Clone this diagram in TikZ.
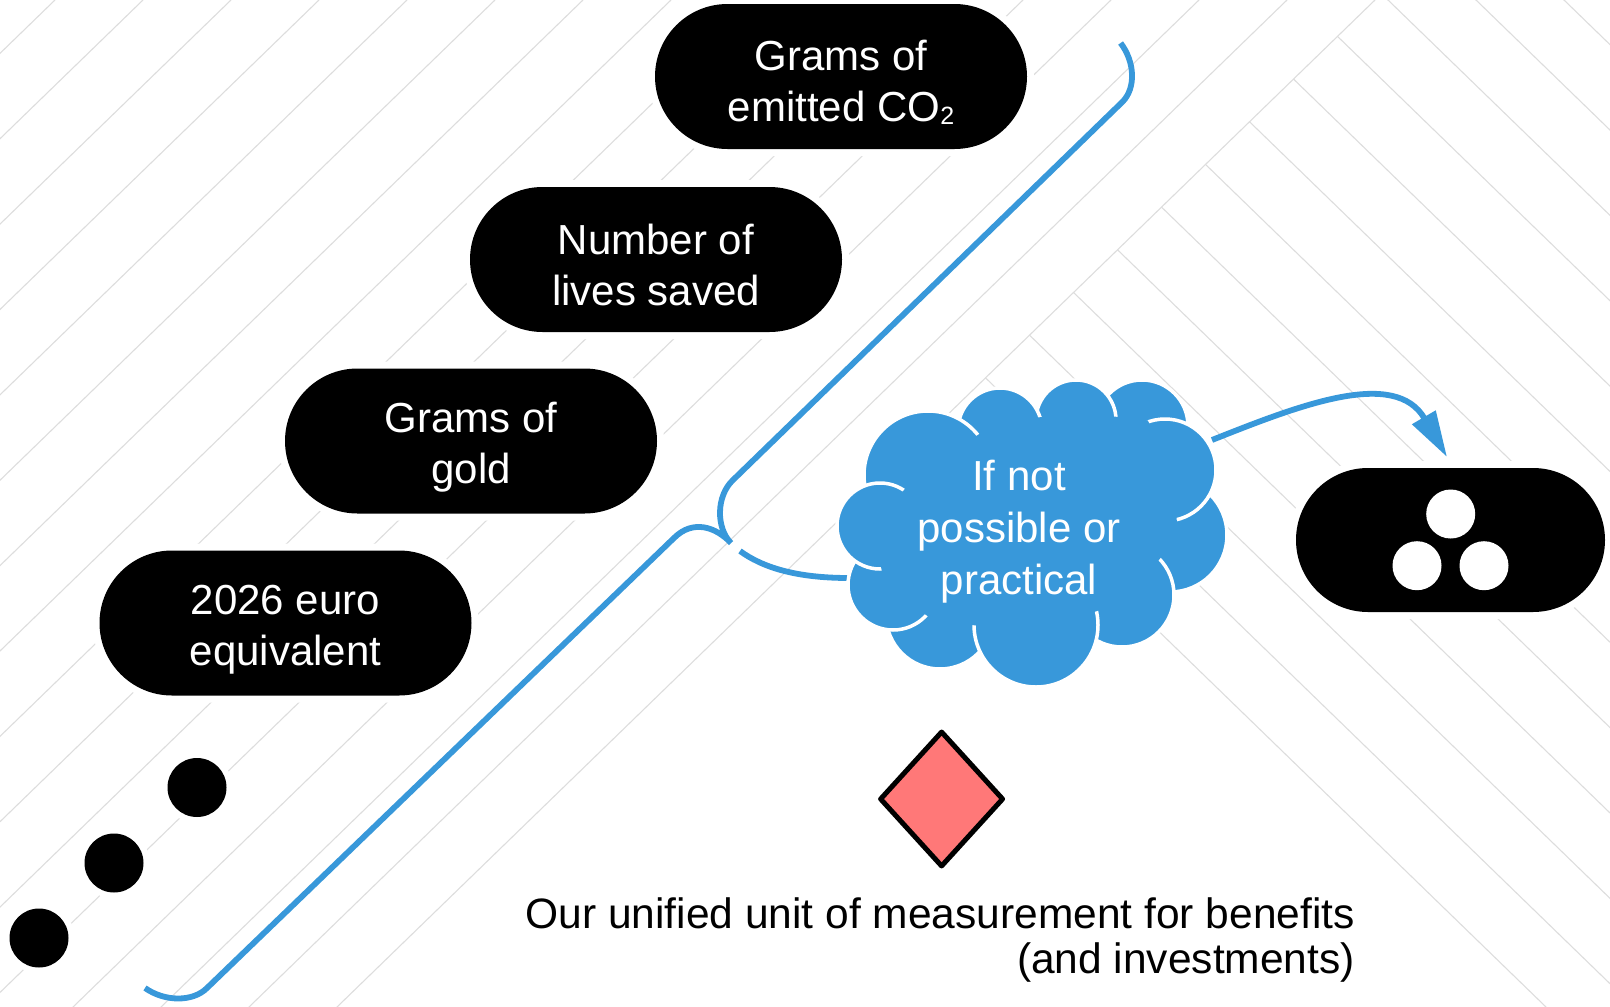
\documentclass[tikz,border=0pt]{standalone}
\usepackage{fontspec}
\setmainfont{Liberation Sans}
\usetikzlibrary{shapes.misc,shapes.geometric,arrows.meta}
\definecolor{cblue}{RGB}{56,152,218}
\definecolor{salmon}{RGB}{255,120,120}
\definecolor{bggray}{RGB}{221,221,221}
\newcommand{\pillstrut}{\rule{0pt}{42pt}}
\begin{document}
\begin{tikzpicture}[x=1pt,y=-1pt,
  bgline/.style={draw=bggray,line width=1.1pt},
  halo/.style={preaction={draw=white,line width=14pt}},
  pill/.style={rounded rectangle, fill=black, halo, minimum width=372pt, minimum height=145pt,
    inner sep=0pt, text=white, align=center, font=\fontsize{42pt}{51pt}\selectfont},
  dot/.style={circle, fill=black, minimum size=59pt, inner sep=0pt, preaction={draw=white,line width=12pt}},
  wdot/.style={circle, fill=white, minimum size=49pt, inner sep=0pt},
  bluel/.style={draw=cblue, line width=5.8pt},
  puff/.style={fill=cblue, draw=white, line width=3.5pt},
]
\useasboundingbox (0,0) rectangle (1610,1007);
\fill[white] (0,0) rectangle (1610,1007);

% background hatching
\begin{scope}
\clip (0,0) rectangle (1610,1007);
\foreach \k in {0,...,15}{
  \pgfmathsetmacro{\cc}{55+88*\k}
  \draw[bgline] (\cc,0) -- ({\cc-1038},1007);
}
\foreach \cv in {508,596,...,1564}{
  \draw[bgline] ({(1375+\cv)/2},{0.97*(1375-\cv)/2}) -- ({\cv+1038},1007);
}
\end{scope}

% brace
\coordinate (bA) at (1120.6,43);
\coordinate (bB) at (1122.6,101.7);
\coordinate (bC) at (733,480);
\coordinate (tip) at (731,543);
\coordinate (bD) at (674,538);
\coordinate (bE) at (207,988);
\coordinate (bF) at (145,988);
\draw[bluel] (bA) .. controls (1135,62) and (1136,88) .. (bB) -- (bC)
  .. controls (716,496) and (716,528) .. (tip)
  .. controls (716,527) and (693,519) .. (bD) -- (bE)
  .. controls (193,1002) and (165,1002) .. (bF);

% connectors to / from the cloud
\coordinate (bG) at (740,551);
\coordinate (cloudL) at (849,578);
\coordinate (cloudR) at (1212,440);
\coordinate (arrowend) at (1447,457);
\draw[bluel] (bG) .. controls (762,567) and (795,578) .. (cloudL);
\draw[bluel, -{Triangle[length=46pt,width=26pt]}] (cloudR) .. controls (1300,405) and (1395,368) .. (arrowend);

% cloud
\foreach \x/\y/\r in {1142/426/46, 1076/420/40, 1000/430/42, 928/475/64, 1170/535/57,
  1165/470/51, 1122/595/52, 940/615/54, 1036/625/62, 893/585/45, 880/526/43}
  \path[puff] (\x,\y) circle[radius=\r pt];
\fill[cblue] (872,525.6) -- (885.5,587.8) -- (934,620.3) -- (1036.3,633) -- (1128.6,599.5)
  -- (1178,535.1) -- (1172.2,466.6) -- (1147.7,420.4) -- (1078.9,412.5) -- (997.6,422.4)
  -- (921,471.1) -- cycle;
\node[text=white, align=center, font=\fontsize{42pt}{52pt}\selectfont] (cloud) at (1019,532)
  {If not\\possible or\\practical};

% pills
\node[pill] (p1) at (841,76.5) {\pillstrut Grams of\\emitted CO\raisebox{-3pt}{\fontsize{25pt}{25pt}\selectfont 2}};
\node[pill] (p2) at (656,259.5) {\pillstrut Number of\\lives saved};
\node[pill] (p3) at (471,441) {\pillstrut Grams of\\gold};
\node[pill] (p4) at (285.5,623) {\pillstrut 2026 euro\\equivalent};

% dots
\node[dot] (d1) at (197,787.5) {};
\node[dot] (d2) at (114,863) {};
\node[dot] (d3) at (39,938) {};

% right pill
\node[rounded rectangle, fill=black, halo, minimum width=309pt, minimum height=144pt, inner sep=0pt] (rp) at (1450.5,540) {};
\node[wdot] (w1) at (1450.7,514) {};
\node[wdot] (w2) at (1417,565.7) {};
\node[wdot] (w3) at (1484,565.7) {};

% diamond
\node[diamond, draw=black, fill=salmon, line width=5pt, line join=round,
  minimum width=124pt, minimum height=136pt, inner sep=0pt] (unit) at (941.6,799) {};

% caption
\node[anchor=north east, align=right, inner sep=0pt, font=\fontsize{42.5pt}{45pt}\selectfont] (caption)
  at (1355,897) {Our unified unit of measurement for benefits\\(and investments)};
\end{tikzpicture}
\end{document}
